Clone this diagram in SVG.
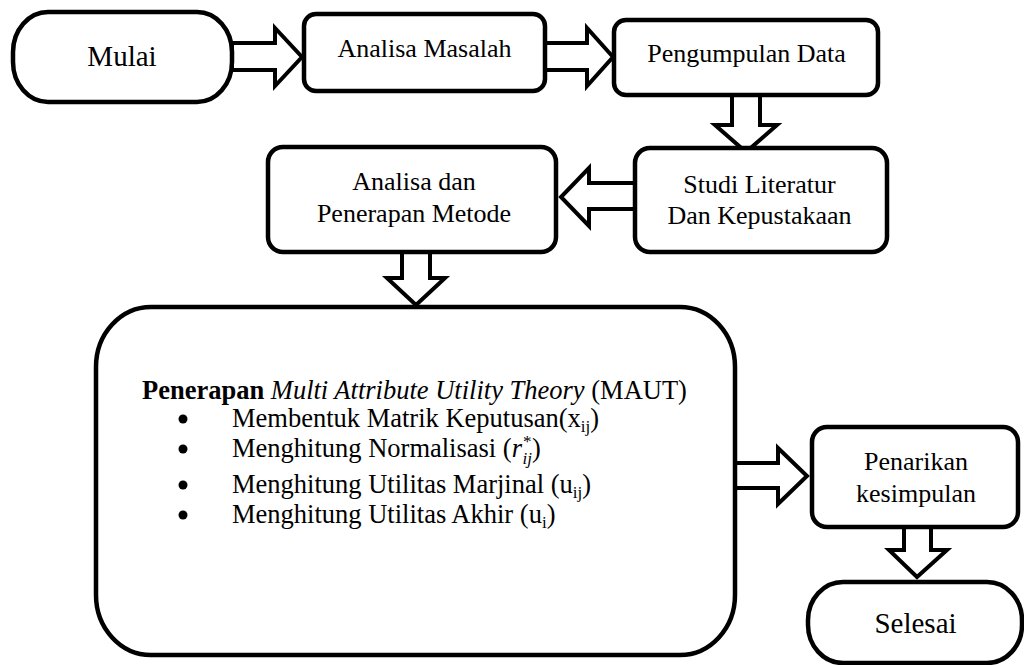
<svg xmlns="http://www.w3.org/2000/svg" width="1024" height="665" viewBox="0 0 1024 665">
<style>
.box{fill:#fff;stroke:#000;stroke-width:4.5}
.arr{fill:#fff;stroke:#000;stroke-width:4;stroke-linejoin:miter}
text{font-family:"Liberation Serif","Times New Roman",serif;fill:#000}
.t{font-size:26px;text-anchor:middle}
.big{font-size:29px;text-anchor:middle}
.b{font-size:26.5px}
.sub{font-size:17px}
</style>
<rect width="1024" height="665" fill="#fff"/>
<g id="connectors">
<polygon class="arr" points="232,43 275,43 275,28 302,57 275,86 275,70 232,70"/>
<polygon class="arr" points="545,43 587,43 587,28 613,57 587,86 587,70 545,70"/>
<polygon class="arr" points="732,95 732,125 715,125 746,152 777,125 760,125 760,95"/>
<polygon class="arr" points="635,183 589,183 589,168 561,197 589,226 589,209 635,209"/>
<polygon class="arr" points="402,252 402,278 387,278 416,305 445,278 430,278 430,252"/>
<polygon class="arr" points="735,463 778,463 778,448 807,476 778,504 778,488 735,488"/>
<polygon class="arr" points="904,527 904,550 889,550 917,577 947,550 931,550 931,527"/>
</g>
<g id="mulai">
<rect class="box" x="13" y="12" width="219" height="90" rx="35" ry="40"/>
<text class="big" x="122" y="66">Mulai</text>
</g>
<g id="analisa-masalah">
<rect class="box" x="304" y="14" width="241" height="77" rx="12"/>
<text class="t" x="424.5" y="57">Analisa Masalah</text>
</g>
<g id="pengumpulan-data">
<rect class="box" x="614" y="20" width="264" height="75" rx="12"/>
<text class="t" x="746.5" y="62">Pengumpulan Data</text>
</g>
<g id="studi-literatur">
<rect class="box" x="635" y="148" width="252" height="104" rx="15"/>
<text class="t" x="759.5" y="193">Studi Literatur</text>
<text class="t" x="759.5" y="224">Dan Kepustakaan</text>
</g>
<g id="analisa-penerapan">
<rect class="box" x="268" y="147" width="288" height="105" rx="15"/>
<text class="t" x="414" y="190">Analisa dan</text>
<text class="t" x="414" y="222">Penerapan Metode</text>
</g>
<g id="maut">
<rect class="box" x="96" y="307" width="639" height="348" rx="55" ry="60"/>
<text class="b" x="142" y="399"><tspan font-weight="bold">Penerapan</tspan> <tspan font-style="italic">Multi Attribute Utility Theory</tspan> (MAUT)</text>
<circle cx="183" cy="419" r="4.5"/>
<circle cx="183" cy="449" r="4.5"/>
<circle cx="183" cy="485" r="4.5"/>
<circle cx="183" cy="515" r="4.5"/>
<text class="b" x="232" y="427">Membentuk Matrik Keputusan(x<tspan class="sub" dy="5">ij</tspan><tspan dy="-5">)</tspan></text>
<text class="b" x="232" y="457">Menghitung Normalisasi (<tspan font-style="italic">r</tspan><tspan class="sub" dy="-10" dx="1">*</tspan><tspan class="sub" font-style="italic" dx="-9" dy="17">ij</tspan><tspan dy="-7">)</tspan></text>
<text class="b" x="232" y="493">Menghitung Utilitas Marjinal (u<tspan class="sub" dy="5">ij</tspan><tspan dy="-5">)</tspan></text>
<text class="b" x="232" y="523">Menghitung Utilitas Akhir (u<tspan class="sub" dy="5">i</tspan><tspan dy="-5">)</tspan></text>
</g>
<g id="penarikan">
<rect class="box" x="812" y="427" width="206" height="100" rx="15"/>
<text class="t" x="916" y="470">Penarikan</text>
<text class="t" x="916" y="502">kesimpulan</text>
</g>
<g id="selesai">
<rect class="box" x="808" y="582" width="214" height="81" rx="35" ry="38"/>
<text class="big" x="915.5" y="633">Selesai</text>
</g>
</svg>
